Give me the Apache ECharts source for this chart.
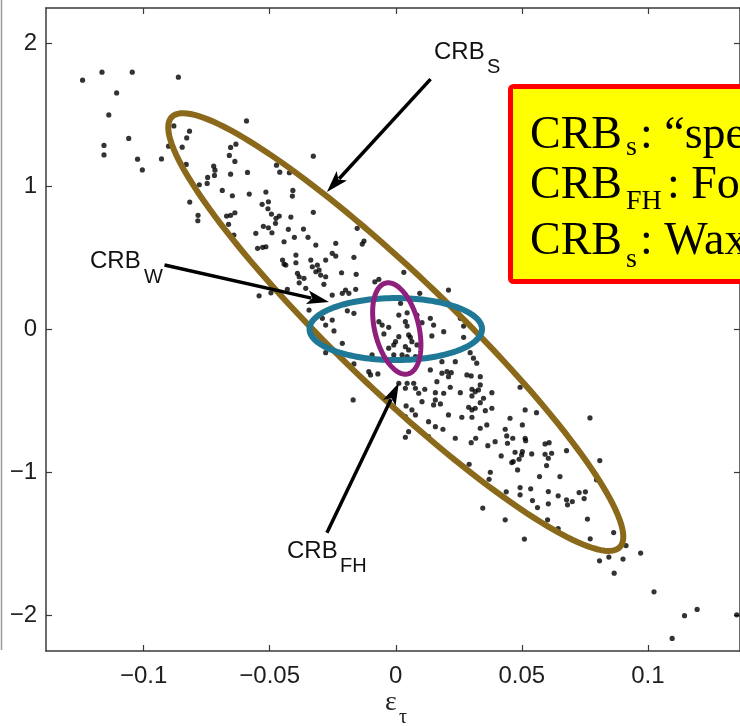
<!DOCTYPE html>
<html>
<head>
<meta charset="utf-8">
<script src="https://cdn.jsdelivr.net/npm/echarts@6/dist/echarts.min.js"></script>
<style>
  html, body { margin: 0; padding: 0; background: #fff; }
  #chart { width: 740px; height: 726px; }
</style>
</head>
<body>
<div id="chart"></div>
<script>
const xTicks = [-0.1, -0.05, 0, 0.05, 0.1];
const yTicks = [-2, -1, 0, 1, 2];

// estimation error samples (eps_x, eps_tau)
const samples = [
  [-0.1242,1.745],[-0.1165,1.801],[-0.1045,1.801],[-0.0862,1.766],[-0.1107,1.656],[-0.1138,1.502],[-0.1059,1.337],[-0.1157,1.288],
  [-0.1157,1.222],[-0.1024,1.192],[-0.1005,1.117],[-0.0929,1.194],[-0.0901,1.283],[-0.0880,1.425],[-0.0818,1.388],[-0.0829,1.341],
  [-0.0847,1.276],[-0.0831,1.155],[-0.0592,1.460],[-0.0655,1.274],[-0.0634,1.297],[-0.0660,1.218],[-0.0638,1.176],[-0.0722,1.143],
  [-0.0717,1.115],[-0.0746,1.064],[-0.0719,1.078],[-0.0655,1.087],[-0.0588,1.099],[-0.0779,1.013],[-0.0748,1.022],[-0.0688,0.973],
  [-0.0648,0.936],[-0.0581,0.948],[-0.0817,0.892],[-0.0784,0.799],[-0.0785,0.761],[-0.0671,0.794],[-0.0655,0.799],[-0.0638,0.817],
  [-0.0663,0.736],[-0.0473,1.150],[-0.0460,1.101],[-0.0422,1.097],[-0.0408,0.973],[-0.0410,0.934],[-0.0515,0.962],[-0.0530,0.876],
  [-0.0505,0.894],[-0.0507,0.845],[-0.0493,0.808],[-0.0475,0.778],[-0.0462,0.794],[-0.0477,0.743],[-0.0525,0.722],[-0.0505,0.712],
  [-0.0491,0.677],[-0.0555,0.673],[-0.0416,0.787],[-0.0426,0.701],[-0.0366,0.703],[-0.0327,1.213],[-0.0327,0.820],[-0.0402,0.645],
  [-0.0348,0.645],[-0.0642,0.661],[-0.0153,0.708],
  [-0.0548,0.568],[-0.0528,0.575],[-0.0515,0.579],[-0.0443,0.614],[-0.0317,0.591],[-0.0238,0.603],[-0.0396,0.521],[-0.0449,0.486],
  [-0.0443,0.458],[-0.0436,0.451],[-0.0396,0.467],[-0.0337,0.486],[-0.0331,0.439],[-0.0311,0.451],[-0.0304,0.416],[-0.0317,0.404],
  [-0.0278,0.486],[-0.0252,0.533],[-0.0238,0.514],[-0.0298,0.381],[-0.0390,0.393],[-0.0383,0.369],[-0.0364,0.358],[-0.0278,0.369],
  [-0.0383,0.327],[-0.0285,0.316],[-0.0542,0.236],[-0.0495,0.257],[-0.0430,0.281],[-0.0357,0.288],[-0.0252,0.241],[-0.0344,0.136],
  [-0.0291,0.078],[-0.0278,0.031],[-0.0252,0.066],
  [-0.0133,0.598],[-0.0126,0.619],[-0.0166,0.505],[-0.0215,0.397],[-0.0157,0.386],[0.0032,0.400],[-0.0083,0.334],[-0.0067,0.351],
  [-0.0199,0.276],[-0.0212,0.253],[-0.0186,0.253],[-0.0159,0.281],[0.0095,0.253],[0.0209,0.276],[-0.0192,0.131],[-0.0166,0.113],
  [0.0019,0.183],[0.0045,0.117],[0.0012,0.101],[0.0084,0.101],[0.0137,0.078],[0.0104,0.048],[0.0150,0.031],[-0.0067,0.055],
  [-0.0054,0.031],[-0.0028,0.015],[0.0038,0.055],[0.0045,0.024],[0.0256,0.078],[0.0269,0.024],
  [-0.0245,-0.010],[-0.0212,-0.097],[-0.0278,-0.162],[-0.0166,-0.241],[-0.0107,-0.295],[-0.0100,-0.318],[-0.0071,-0.311],[-0.0169,-0.493],
  [-0.0047,-0.031],[-0.0001,-0.085],[-0.0008,-0.108],[0.0012,-0.050],[0.0051,-0.038],[0.0058,-0.055],[0.0038,-0.120],[0.0051,-0.143],
  [0.0064,-0.085],[0.0084,-0.108],[0.0025,-0.178],[0.0045,-0.190],[-0.0008,-0.178],[0.0078,-0.190],[-0.0028,-0.131],[-0.0094,-0.178],
  [0.0012,-0.376],[0.0045,-0.376],[0.0071,-0.376],[0.0078,-0.411],[0.0038,-0.411],[0.0091,-0.446],[0.0104,-0.505],[0.0041,-0.535],
  [0.0064,-0.563],[0.0078,-0.598],[0.0038,-0.610],[0.0115,-0.418],
  [0.0143,-0.045],[0.0190,-0.015],[0.0269,-0.055],[0.0183,-0.225],[0.0236,-0.225],[0.0295,-0.162],[0.0308,-0.201],[0.0321,-0.236],
  [0.0137,-0.283],[0.0183,-0.306],[0.0203,-0.295],[0.0220,-0.302],[0.0209,-0.330],[0.0163,-0.365],[0.0282,-0.318],[0.0299,-0.325],
  [0.0335,-0.330],[0.0335,-0.388],[0.0216,-0.404],[0.0157,-0.442],[0.0190,-0.446],[0.0256,-0.442],[0.0302,-0.418],[0.0315,-0.435],
  [0.0328,-0.423],[0.0302,-0.465],[0.0348,-0.481],[0.0381,-0.442],[0.0157,-0.493],[0.0150,-0.528],[0.0177,-0.521],[0.0335,-0.512],
  [0.0289,-0.544],[0.0302,-0.563],[0.0315,-0.551],[0.0355,-0.568],[0.0381,-0.551],[0.0209,-0.598],[0.0262,-0.614],[0.0302,-0.614],
  [0.0493,-0.404],[0.0513,-0.563],[0.0558,-0.582],[0.0453,-0.621],[0.0770,-0.619],
  [0.0051,-0.715],[0.0038,-0.754],[0.0130,-0.645],[0.0157,-0.680],[0.0187,-0.698],[0.0130,-0.750],[0.0236,-0.761],[0.0335,-0.691],
  [0.0361,-0.668],[0.0434,-0.698],[0.0502,-0.668],[0.0299,-0.792],[0.0317,-0.761],[0.0365,-0.813],[0.0394,-0.785],[0.0440,-0.745],
  [0.0464,-0.761],[0.0443,-0.796],[0.0513,-0.761],[0.0515,-0.778],[0.0418,-0.885],[0.0473,-0.859],[0.0502,-0.855],[0.0499,-0.878],
  [0.0489,-0.908],[0.0460,-0.931],[0.0466,-0.924],[0.0539,-0.871],[0.0592,-0.801],[0.0608,-0.792],[0.0592,-0.873],[0.0618,-0.866],
  [0.0605,-0.901],[0.0598,-0.952],[0.0677,-0.848],[0.0291,-0.943],[0.0483,-0.983],[0.0375,-0.999],[0.0370,-1.048],[0.0570,-1.029],
  [0.0651,-1.029],[0.0809,-0.917],[0.0796,-1.052],[0.0438,-1.136],[0.0493,-1.106],[0.0493,-1.157],[0.0535,-1.115],[0.0542,-1.197],
  [0.0605,-1.134],[0.0644,-1.164],[0.0605,-1.220],[0.0677,-1.192],[0.0700,-1.204],[0.0681,-1.227],[0.0727,-1.141],[0.0752,-1.136],
  [0.0747,-1.183],[0.0562,-1.246],[0.0345,-1.250],[0.0434,-1.332],[0.0602,-1.332],[0.0760,-1.327],[0.0644,-1.393],
  [0.0510,-1.467],[0.0771,-1.465],[0.0864,-1.421],[0.0913,-1.512],[0.0971,-1.565],[0.0808,-1.619],[0.0845,-1.593],[0.0901,-1.607],
  [0.0866,-1.705],[0.1024,-1.836],[0.1145,-2.003],[0.1195,-1.959],[0.1096,-2.162],[0.1352,-1.997]
];

// bound ellipses: centre, end of one semi-axis, end of the conjugate semi-axis
const crbS = [[0, -0.018], [-0.0889, 1.486], [0.0154, 0.271]];
const crbW = [[0, 0.003], [0.0342, 0.003], [0, 0.22]];
const crbFH = [[0.0004, 0.007], [-0.0040, 0.325], [0.0089, 0.043]];

// annotation arrows: [from, to]
const arrows = [
  [[0.0138, 1.752], [-0.0273, 0.962]],
  [[-0.0917, 0.451], [-0.0265, 0.192]],
  [[-0.0273, -1.423], [0.0012, -0.374]]
];

const fmt = v => String(v).replace('-', '\u2212');
const axisColor = '#3a3a3a';

function ellipseSeries(name, e, color, width) {
  return {
    name: name,
    type: 'custom',
    silent: true,
    z: 4,
    data: [[e[0][0], e[0][1], e[1][0], e[1][1], e[2][0], e[2][1]]],
    renderItem: function (params, api) {
      const c = api.coord([api.value(0), api.value(1)]);
      const a = api.coord([api.value(2), api.value(3)]);
      const b = api.coord([api.value(4), api.value(5)]);
      const pts = [];
      for (let i = 0; i < 160; i++) {
        const t = i / 160 * Math.PI * 2;
        pts.push([
          c[0] + (a[0] - c[0]) * Math.cos(t) + (b[0] - c[0]) * Math.sin(t),
          c[1] + (a[1] - c[1]) * Math.cos(t) + (b[1] - c[1]) * Math.sin(t)
        ]);
      }
      return {
        type: 'polygon',
        shape: { points: pts },
        style: { fill: 'none', stroke: color, lineWidth: width }
      };
    }
  };
}

const chart = echarts.init(document.getElementById('chart'));

chart.setOption({
  animation: false,
  textStyle: { fontFamily: 'Liberation Sans' },
  grid: { left: 46, right: -2, top: 8, bottom: 75 },
  xAxis: [{
    type: 'value', min: -0.1387, max: 0.1365, position: 'bottom',
    axisLine: { show: true, onZero: false, lineStyle: { color: axisColor, width: 1.5 } },
    axisTick: { show: true, inside: true, length: 6, customValues: xTicks, lineStyle: { color: axisColor, width: 1.2 } },
    axisLabel: { customValues: xTicks, formatter: fmt, fontSize: 24, color: '#1e1e1e', margin: 13 },
    splitLine: { show: false }
  }, {
    type: 'value', min: -0.1387, max: 0.1365, position: 'top',
    axisLine: { show: true, onZero: false, lineStyle: { color: axisColor, width: 1.5 } },
    axisTick: { show: true, inside: true, length: 6, customValues: xTicks, lineStyle: { color: axisColor, width: 1.2 } },
    axisLabel: { show: false },
    splitLine: { show: false }
  }],
  yAxis: [{
    type: 'value', min: -2.25, max: 2.25, position: 'left',
    axisLine: { show: true, onZero: false, lineStyle: { color: axisColor, width: 1.5 } },
    axisTick: { show: true, inside: true, length: 6, customValues: yTicks, lineStyle: { color: axisColor, width: 1.2 } },
    axisLabel: { customValues: yTicks, formatter: fmt, fontSize: 24, color: '#1e1e1e', margin: 9 },
    splitLine: { show: false }
  }, {
    type: 'value', min: -2.25, max: 2.25, position: 'right',
    axisLine: { show: true, onZero: false, lineStyle: { color: axisColor, width: 1.5 } },
    axisTick: { show: true, inside: true, length: 6, customValues: yTicks, lineStyle: { color: axisColor, width: 1.2 } },
    axisLabel: { show: false },
    splitLine: { show: false }
  }],
  series: [
    {
      name: 'samples',
      type: 'scatter',
      data: samples,
      symbolSize: 5.2,
      itemStyle: { color: '#000' },
      silent: true,
      z: 2
    },
    ellipseSeries('CRB_S', crbS, '#8a6a1a', 6),
    ellipseSeries('CRB_W', crbW, '#1f7896', 6),
    ellipseSeries('CRB_FH', crbFH, '#8e1f7c', 5),
    {
      name: 'arrows',
      type: 'custom',
      silent: true,
      z: 5,
      data: arrows.map(a => [a[0][0], a[0][1], a[1][0], a[1][1]]),
      renderItem: function (params, api) {
        const p = api.coord([api.value(0), api.value(1)]);
        const q = api.coord([api.value(2), api.value(3)]);
        const dx = q[0] - p[0], dy = q[1] - p[1];
        const len = Math.sqrt(dx * dx + dy * dy);
        const ux = dx / len, uy = dy / len;
        const head = 22, half = 7;
        const bx = q[0] - ux * head, by = q[1] - uy * head;
        return {
          type: 'group',
          children: [{
            type: 'line',
            shape: { x1: p[0], y1: p[1], x2: bx + ux * 4, y2: by + uy * 4 },
            style: { stroke: '#000', lineWidth: 3.5 }
          }, {
            type: 'polygon',
            shape: { points: [q, [bx - uy * half, by + ux * half], [bx + ux * 5, by + uy * 5], [bx + uy * half, by - ux * half]] },
            style: { fill: '#000' }
          }]
        };
      }
    }
  ],
  graphic: [
    { type: 'line', shape: { x1: 1.5, y1: 0, x2: 1.5, y2: 650 }, style: { stroke: '#9a9a9a', lineWidth: 1.5 } },
    // curve labels
    { type: 'text', style: { x: 434, y: 52, text: 'CRB', font: '24px "Liberation Sans"', fill: '#111', verticalAlign: 'middle' } },
    { type: 'text', style: { x: 487, y: 67, text: 'S', font: '20px "Liberation Sans"', fill: '#111', verticalAlign: 'middle' } },
    { type: 'text', style: { x: 90, y: 261, text: 'CRB', font: '24px "Liberation Sans"', fill: '#111', verticalAlign: 'middle' } },
    { type: 'text', style: { x: 144, y: 277, text: 'W', font: '20px "Liberation Sans"', fill: '#111', verticalAlign: 'middle' } },
    { type: 'text', style: { x: 287, y: 551, text: 'CRB', font: '24px "Liberation Sans"', fill: '#111', verticalAlign: 'middle' } },
    { type: 'text', style: { x: 340, y: 566, text: 'FH', font: '20px "Liberation Sans"', fill: '#111', verticalAlign: 'middle' } },
    // axis name
    { type: 'text', style: { x: 385, y: 703, text: '\u03b5', font: '28px "Liberation Serif"', fill: '#222', verticalAlign: 'middle' } },
    { type: 'text', style: { x: 399, y: 718, text: '\u03c4', font: '20px "Liberation Serif"', fill: '#222', verticalAlign: 'middle' } },
    // legend box
    { type: 'rect', z: 100, shape: { x: 510.5, y: 86.5, width: 260, height: 195, r: 3 }, style: { fill: '#ffff00', stroke: '#ff0000', lineWidth: 5 } },
    { type: 'text', z: 101, style: { x: 530, y: 136, text: 'CRB', font: '46px "Liberation Serif"', fill: '#000', verticalAlign: 'middle' } },
    { type: 'text', z: 101, style: { x: 626, y: 148, text: 's', font: '28px "Liberation Serif"', fill: '#000', verticalAlign: 'middle' } },
    { type: 'text', z: 101, style: { x: 640, y: 136, text: ': \u201cspeckle\u201d', font: '46px "Liberation Serif"', fill: '#000', verticalAlign: 'middle' } },
    { type: 'text', z: 101, style: { x: 530, y: 186, text: 'CRB', font: '46px "Liberation Serif"', fill: '#000', verticalAlign: 'middle' } },
    { type: 'text', z: 101, style: { x: 626, y: 202, text: 'FH', font: '28px "Liberation Serif"', fill: '#000', verticalAlign: 'middle' } },
    { type: 'text', z: 101, style: { x: 667, y: 186, text: ': Fourier', font: '46px "Liberation Serif"', fill: '#000', verticalAlign: 'middle' } },
    { type: 'text', z: 101, style: { x: 530, y: 242, text: 'CRB', font: '46px "Liberation Serif"', fill: '#000', verticalAlign: 'middle' } },
    { type: 'text', z: 101, style: { x: 626, y: 260, text: 's', font: '28px "Liberation Serif"', fill: '#000', verticalAlign: 'middle' } },
    { type: 'text', z: 101, style: { x: 640, y: 242, text: ': Waxman', font: '46px "Liberation Serif"', fill: '#000', verticalAlign: 'middle' } }
  ]
});
</script>
</body>
</html>
